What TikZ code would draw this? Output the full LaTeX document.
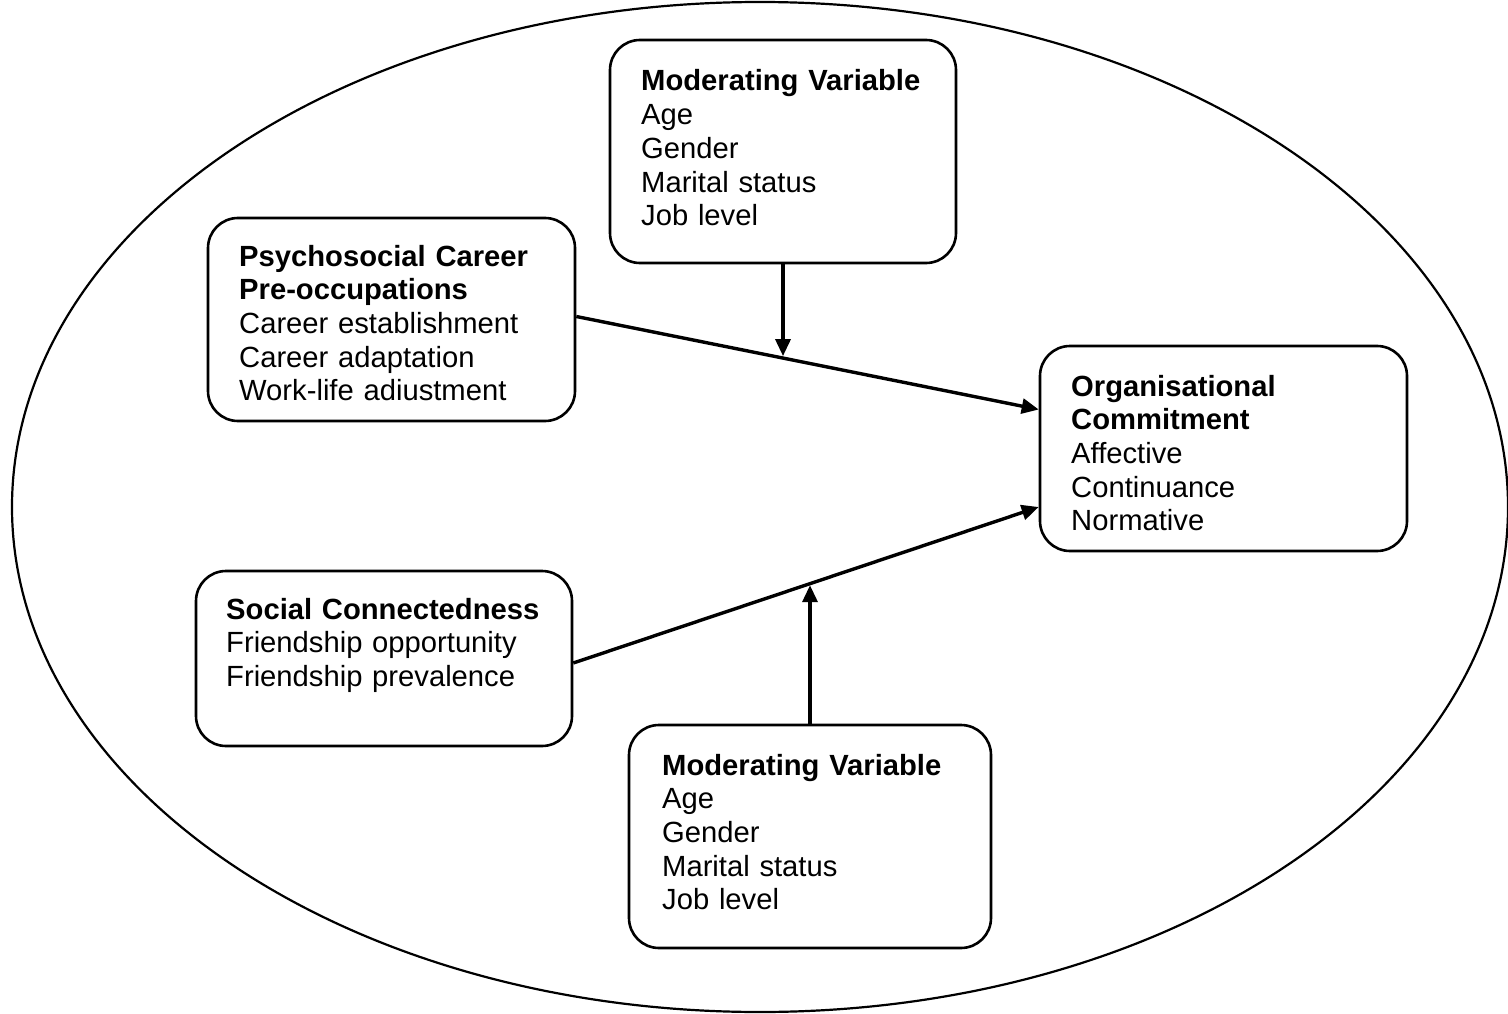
\documentclass[tikz,border=0pt]{standalone}
\usepackage{fontspec}
\setmainfont{Liberation Sans}
\usetikzlibrary{arrows.meta,calc}
\begin{document}
\begin{tikzpicture}[x=1pt,y=-1pt,
  box/.style={draw, line width=2.6pt, rounded corners=30pt, inner sep=0pt},
  txt/.style={anchor=base west, inner sep=0pt, text width=#1, align=left,
              font=\fontsize{29.2}{33.7}\selectfont},
  link/.style={line width=3.4pt, -{Triangle[length=17pt,width=15pt]}},
]
\useasboundingbox (0,0) rectangle (1508,1014);

% enclosing ellipse
\draw[line width=2.2pt] (760,507) ellipse [x radius=748, y radius=505];

% boxes
\node[box, minimum width=346pt, minimum height=223pt] (topmod) at (783,151.5) {};
\node[box, minimum width=367pt, minimum height=203pt] (psych)  at (391.5,319.5) {};
\node[box, minimum width=367pt, minimum height=205pt] (org)    at (1223.5,448.5) {};
\node[box, minimum width=376pt, minimum height=175pt] (social) at (384,658.5) {};
\node[box, minimum width=362pt, minimum height=223pt] (botmod) at (810,836.5) {};

% box texts
\node[txt=320pt] (topmod-t) at (641,91)
  {\textbf{Moderating Variable}\\Age\\Gender\\Marital status\\Job level};
\node[txt=330pt] (psych-t) at (239,266)
  {\textbf{Psychosocial Career}\\\textbf{Pre-occupations}\\Career establishment\\Career adaptation\\Work-life adiustment};
\node[txt=320pt] (org-t) at (1071,396)
  {\textbf{Organisational}\\\textbf{Commitment}\\Affective\\Continuance\\Normative};
\node[txt=330pt] (social-t) at (226,619)
  {\textbf{Social Connectedness}\\Friendship opportunity\\Friendship prevalence};
\node[txt=320pt] (botmod-t) at (662,775)
  {\textbf{Moderating Variable}\\Age\\Gender\\Marital status\\Job level};

% main paths
\coordinate (p1) at ($(psych.east)+(0,-3)$);
\coordinate (p2) at ($(org.west)+(0,-39)$);
\coordinate (s1) at ($(social.east)+(0,4.5)$);
\coordinate (s2) at ($(org.west)+(0,58.5)$);
\draw[link] (p1) -- (p2);
\draw[link] (s1) -- (s2);

% moderating arrows onto the main paths
\coordinate (m1) at ($(p1)!0.4473!(p2)$);
\coordinate (m2) at ($(s1)!0.5085!(s2)$);
\draw[link] (topmod.south) -- ($(topmod.south |- m1)+(0,-2)$);
\draw[link] (botmod.north) -- ($(botmod.north |- m2)+(0,1.5)$);
\end{tikzpicture}
\end{document}
